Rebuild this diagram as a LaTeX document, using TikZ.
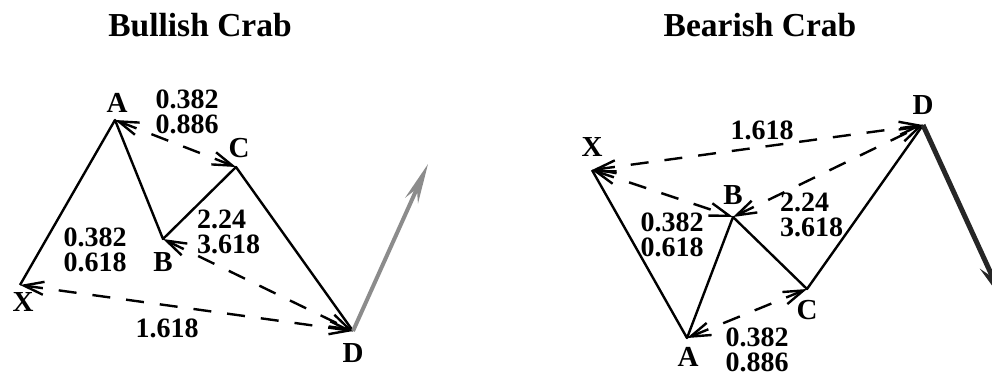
\documentclass[tikz,border=0pt]{standalone}
\usepackage{fontspec}
\setmainfont{Liberation Serif}
\usetikzlibrary{arrows.meta}

\begin{document}
\begin{tikzpicture}[x=1pt, y=-1pt, >={Straight Barb[length=20pt,width=13pt,line width=2.4pt]},
  leg/.style={line width=2.4pt, line join=round},
  ratio/.style={<->, line width=2.4pt, dash pattern=on 18pt off 16pt},
  pt/.style={font=\fontsize{29}{29}\selectfont\bfseries, inner sep=0pt},
  num/.style={font=\fontsize{28}{25}\selectfont\bfseries, align=left, inner sep=0pt},
  heading/.style={font=\fontsize{33.5}{36}\selectfont\bfseries, inner sep=0pt}]

  \clip (0,0) rectangle (992,376);

  % bullish crab
  \node[heading] (bullT) at (200,25) {Bullish Crab};
  \coordinate (lX) at (20,285);
  \coordinate (lA) at (115,120);
  \coordinate (lB) at (163,239);
  \coordinate (lC) at (236,167);
  \coordinate (lD) at (353,331);
  \coordinate (lOut) at (428,164);

  \node[pt] (lXt) at (23,302) {X};
  \node[pt] (lAt) at (117,103) {A};
  \node[pt] (lBt) at (163,262) {B};
  \node[pt] (lCt) at (239,148) {C};
  \node[pt] (lDt) at (353,353) {D};

  \node[num] (lAC) at (187,112) {0.382\\0.886};
  \node[num] (lXB) at (95,250) {0.382\\0.618};
  \node[num, anchor=west] (lBD) at (197,232) {2.24\\3.618};
  \node[num] (lXD) at (167,328) {1.618};

  \draw[leg] (lX) -- (lA) -- (lB) -- (lC) -- (lD);
  \draw[ratio] (lX) -- (lD);
  \draw[ratio] (lA) -- (lC);
  \draw[ratio] (lB) -- (lD);
  \draw[-{Stealth[length=40pt,width=14pt]}, line width=4pt, black!45] (lD) -- (lOut);

  % bearish crab
  \node[heading] (bearT) at (760,25) {Bearish Crab};
  \coordinate (rX) at (592,170);
  \coordinate (rA) at (687,338);
  \coordinate (rB) at (733,217);
  \coordinate (rC) at (807,289);
  \coordinate (rD) at (923,125);
  \coordinate (rOut) at (1004,302);

  \node[pt] (rXt) at (592,147) {X};
  \node[pt] (rAt) at (688,357) {A};
  \node[pt] (rBt) at (733,195) {B};
  \node[pt] (rCt) at (807,310) {C};
  \node[pt] (rDt) at (923,105) {D};

  \node[num] (rXD) at (762,130) {1.618};
  \node[num] (rXB) at (672,235) {0.382\\0.618};
  \node[num, anchor=west] (rBD) at (780,215) {2.24\\3.618};
  \node[num] (rAC) at (757,350) {0.382\\0.886};

  \draw[leg] (rX) -- (rA) -- (rB) -- (rC) -- (rD);
  \draw[ratio] (rX) -- (rD);
  \draw[ratio] (rX) -- (rB);
  \draw[ratio] (rB) -- (rD);
  \draw[ratio] (rA) -- (rC);
  \draw[-{Stealth[length=40pt,width=16pt]}, line width=5pt, black!85] (rD) -- (rOut);
\end{tikzpicture}
\end{document}
